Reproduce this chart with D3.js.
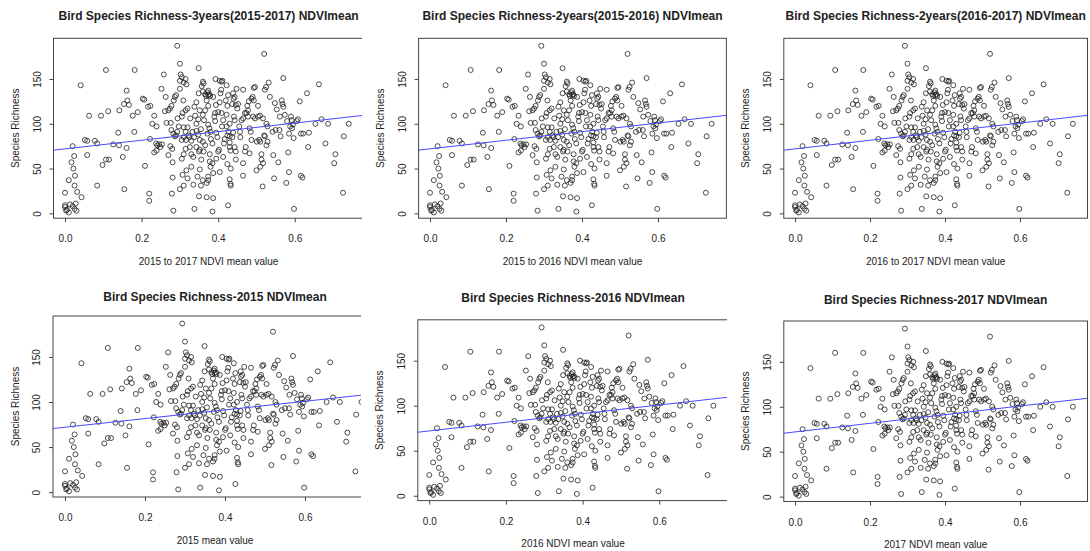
<!DOCTYPE html>
<html>
<head>
<meta charset="utf-8">
<script src="https://cdn.jsdelivr.net/npm/d3@7"></script>
<style>
  body { margin: 0; background: #fff; }
  text { font-family: "Liberation Sans", Arial, sans-serif; fill: #222; }
  .title { font-weight: bold; font-size: 12px; }
  .axisText { font-size: 10px; }
</style>
</head>
<body>
<div id="chart"></div>
<script>
// panel titles and x labels
var titles = [
    "Bird Species Richness-3years(2015-2017) NDVImean",
    "Bird Species Richness-2years(2015-2016) NDVImean",
    "Bird Species Richness-2years(2016-2017) NDVImean",
    "Bird Species Richness-2015 NDVImean",
    "Bird Species Richness-2016 NDVImean",
    "Bird Species Richness-2017 NDVImean"
];
var xLabels = [
    "2015 to 2017 NDVI mean value",
    "2015 to 2016 NDVI mean value",
    "2016 to 2017 NDVI mean value",
    "2015 mean value",
    "2016 NDVI mean value",
    "2017 NDVI mean value"
];
var yLabel = "Species Richness";
var xTicks = [0, 0.2, 0.4, 0.6];
var yTicks = [0, 50, 100, 150];

// fitted line
var fitIntercept = 72;
var fitSlope = 48;

// [NDVI mean, species richness]
var sites = [
[0.0,23],[0.0,9],[0.0,7],[0.005,4],[0.01,1],[0.013,10],[0.02,8],[0.028,11],[0.03,3],[0.025,5],[0.003,3],
[0.01,37],[0.017,57],[0.02,75],[0.022,50],[0.024,64],[0.026,42],[0.025,31],[0.032,24],[0.043,18],[0.041,143],
[0.052,82],[0.058,81],[0.058,65],[0.063,109],[0.078,81],[0.084,78],[0.084,31],[0.094,109],[0.098,54],[0.107,60],
[0.115,60],[0.107,160],[0.113,114],[0.126,77],[0.139,90],[0.142,115],[0.141,76],[0.151,63],[0.154,122],[0.155,27],
[0.161,137],[0.163,126],[0.161,73],[0.167,121],[0.177,109],[0.182,160],[0.181,91],[0.19,113],[0.203,128],[0.207,127],
[0.209,53],[0.217,119],[0.223,120],[0.22,22],[0.22,14],[0.222,83],[0.228,100],[0.233,68],[0.239,70],[0.233,109],
[0.239,97],[0.238,78],[0.241,76],[0.246,77],[0.249,74],[0.253,77],[0.252,139],[0.258,155],[0.261,114],[0.263,130],
[0.265,101],[0.27,115],[0.274,117],[0.278,120],[0.27,65],[0.275,75],[0.28,72],[0.279,22],[0.281,40],[0.283,3],
[0.278,93],[0.283,89],[0.281,57],[0.284,126],[0.287,130],[0.29,132],[0.29,87],[0.293,187],[0.294,106],[0.297,97],
[0.30,139],[0.30,148],[0.302,155],[0.305,152],[0.30,167],[0.30,27],[0.305,61],[0.307,43],[0.309,126],[0.31,146],
[0.315,150],[0.317,144],[0.31,66],[0.315,72],[0.31,96],[0.315,91],[0.31,85],[0.316,82],[0.322,87],[0.31,31],
[0.317,48],[0.32,39],[0.32,96],[0.327,106],[0.325,85],[0.33,81],[0.333,91],[0.337,85],[0.33,66],[0.335,63],
[0.335,32],[0.338,5],[0.338,119],[0.343,124],[0.34,109],[0.343,100],[0.348,105],[0.343,92],[0.348,88],[0.352,82],
[0.355,94],[0.35,69],[0.352,71],[0.349,134],[0.349,162],[0.346,41],[0.35,19],[0.355,31],[0.36,37],[0.356,60],
[0.357,142],[0.36,147],[0.362,145],[0.36,136],[0.366,133],[0.368,131],[0.372,135],[0.374,132],[0.377,133],[0.379,131],
[0.374,137],[0.36,110],[0.363,104],[0.366,115],[0.36,80],[0.366,76],[0.37,18],[0.37,34],[0.374,37],[0.374,41],
[0.374,99],[0.377,95],[0.38,91],[0.372,89],[0.378,66],[0.378,58],[0.38,52],[0.381,83],[0.385,78],[0.385,56],
[0.387,45],[0.387,17],[0.385,2],[0.39,108],[0.392,103],[0.392,112],[0.394,121],[0.393,150],[0.395,90],[0.398,85],
[0.4,69],[0.402,71],[0.404,148],[0.409,147],[0.411,148],[0.406,134],[0.408,138],[0.404,46],[0.41,97],[0.413,104],
[0.409,112],[0.415,78],[0.417,83],[0.42,126],[0.424,120],[0.422,110],[0.422,97],[0.427,91],[0.424,87],[0.43,86],
[0.43,100],[0.424,55],[0.426,9],[0.426,132],[0.43,79],[0.43,74],[0.432,70],[0.43,38],[0.432,33],[0.433,31],
[0.433,50],[0.437,85],[0.439,90],[0.437,122],[0.44,128],[0.443,130],[0.441,108],[0.443,104],[0.443,74],[0.446,69],
[0.446,121],[0.45,117],[0.452,122],[0.455,97],[0.457,91],[0.458,85],[0.465,106],[0.47,112],[0.465,138],[0.465,56],
[0.465,42],[0.47,69],[0.472,74],[0.474,112],[0.478,108],[0.476,120],[0.48,125],[0.478,115],[0.482,95],[0.485,91],
[0.487,128],[0.49,130],[0.493,126],[0.491,108],[0.496,106],[0.493,140],[0.496,141],[0.501,80],[0.5,48],[0.504,120],
[0.504,108],[0.509,109],[0.507,82],[0.51,80],[0.51,52],[0.513,60],[0.513,66],[0.517,56],[0.516,30],[0.517,106],
[0.52,87],[0.522,86],[0.522,138],[0.525,141],[0.52,178],[0.526,100],[0.529,97],[0.529,80],[0.532,146],[0.535,130],
[0.542,91],[0.544,65],[0.546,39],[0.548,123],[0.55,93],[0.553,116],[0.557,57],[0.56,93],[0.561,108],[0.563,86],
[0.566,126],[0.568,122],[0.57,151],[0.57,119],[0.574,110],[0.578,34],[0.58,103],[0.583,68],[0.585,46],[0.585,89],
[0.588,97],[0.59,108],[0.592,104],[0.593,95],[0.595,99],[0.597,84],[0.598,5],[0.605,103],[0.608,105],[0.613,125],
[0.616,89],[0.622,89],[0.616,42],[0.62,40],[0.632,134],[0.635,74],[0.637,90],[0.654,100],[0.663,144],[0.67,105],
[0.68,78],[0.687,100],[0.703,56],[0.706,66],[0.726,23],[0.728,86],[0.741,100],
[0.276,101],[0.287,86],[0.293,91],[0.305,108],[0.307,112],[0.315,115],[0.32,117],[0.352,115],[0.37,126],[0.374,120],
[0.387,130],[0.4,113],[0.404,124],[0.422,143],[0.439,134],[0.448,139],[0.461,104],[0.343,74],[0.326,74],[0.305,82],
[0.362,69],[0.395,61],[0.413,63],[0.33,52],[0.352,49],[0.446,60],[0.482,67],[0.487,82],[0.526,76]
];

var svgWidth = 1090;
var svgHeight = 551;

// where each screenshot sits, where its plot box is, and title gap
var panels = [
    { clip: [0, 0, 362, 275],      box: [53.5, 38.3, 363.7, 218.2],  titleGap: 23 },
    { clip: [362, 0, 727, 275],    box: [418.6, 38.3, 726.4, 218.2], titleGap: 23 },
    { clip: [727, 0, 1090, 275],   box: [783.8, 38.3, 1087.5, 218.2], titleGap: 23 },
    { clip: [0, 275, 361, 551],    box: [53, 316, 377, 497],         titleGap: 19 },
    { clip: [361, 275, 727, 551],  box: [417.8, 319.8, 728.3, 500.6], titleGap: 22 },
    { clip: [727, 275, 1090, 551], box: [783.8, 321, 1087.5, 501.5],  titleGap: 21 }
];

var svg = d3.select("#chart")
    .append("svg")
    .attr("width", svgWidth)
    .attr("height", svgHeight);

var defs = svg.append("defs");

panels.forEach(function (p, i) {
    var c = p.clip, b = p.box;

    defs.append("clipPath").attr("id", "clip" + i)
        .append("rect")
        .attr("x", c[0]).attr("y", c[1])
        .attr("width", c[2] - c[0]).attr("height", c[3] - c[1]);
    defs.append("clipPath").attr("id", "box" + i)
        .append("rect")
        .attr("x", b[0]).attr("y", b[1])
        .attr("width", b[2] - b[0]).attr("height", b[3] - b[1]);

    var g = svg.append("g").attr("clip-path", "url(#clip" + i + ")");

    var x = d3.scaleLinear().domain([-0.03, 0.78]).range([b[0], b[2]]);
    var y = d3.scaleLinear().domain([-5.4, 195.4]).range([b[3], b[1]]);

    // points
    g.append("g").attr("clip-path", "url(#box" + i + ")")
        .selectAll("circle")
        .data(sites)
        .enter().append("circle")
        .attr("cx", function (d) { return x(d[0]); })
        .attr("cy", function (d) { return y(d[1]); })
        .attr("r", 2.5)
        .attr("fill", "none")
        .attr("stroke", "#222")
        .attr("stroke-width", 0.8);

    // regression line
    g.append("line")
        .attr("clip-path", "url(#box" + i + ")")
        .attr("x1", x(-0.03)).attr("y1", y(fitIntercept + fitSlope * -0.03))
        .attr("x2", x(0.78)).attr("y2", y(fitIntercept + fitSlope * 0.78))
        .attr("stroke", "#4848ff")
        .attr("stroke-width", 1);

    // box
    g.append("rect")
        .attr("x", b[0]).attr("y", b[1])
        .attr("width", b[2] - b[0]).attr("height", b[3] - b[1])
        .attr("fill", "none")
        .attr("stroke", "#444")
        .attr("stroke-width", 1);

    // x axis
    var xAxis = g.append("g")
        .attr("transform", "translate(0," + b[3] + ")")
        .call(d3.axisBottom(x).tickValues(xTicks).tickFormat(d3.format(".1f"))
            .tickSize(4).tickSizeOuter(0).tickPadding(13));
    xAxis.select(".domain").remove();
    xAxis.selectAll("line").attr("stroke", "#444");
    xAxis.selectAll("text").attr("class", "axisText").attr("fill", null).attr("font-family", null).attr("font-size", null);

    // y axis, labels turned like R does
    var yAxis = g.append("g")
        .attr("transform", "translate(" + b[0] + ",0)")
        .call(d3.axisLeft(y).tickValues(yTicks).tickSize(4).tickSizeOuter(0));
    yAxis.select(".domain").remove();
    yAxis.selectAll("line").attr("stroke", "#444");
    yAxis.selectAll("text")
        .attr("class", "axisText")
        .attr("fill", null).attr("font-family", null).attr("font-size", null)
        .attr("transform", "rotate(-90)")
        .attr("x", 0).attr("y", -13).attr("dy", null)
        .style("text-anchor", "middle");

    var midX = (b[0] + b[2]) / 2;

    g.append("text")
        .attr("class", "title")
        .attr("x", midX).attr("y", b[1] - p.titleGap)
        .attr("dy", "0.35em")
        .style("text-anchor", "middle")
        .text(titles[i]);

    g.append("text")
        .attr("class", "axisText")
        .attr("x", midX).attr("y", b[3] + 43)
        .attr("dy", "0.35em")
        .style("text-anchor", "middle")
        .text(xLabels[i]);

    g.append("text")
        .attr("class", "axisText")
        .attr("transform", "translate(" + (b[0] - 38) + "," + ((b[1] + b[3]) / 2) + ") rotate(-90)")
        .attr("dy", "0.35em")
        .style("text-anchor", "middle")
        .text(yLabel);
});
</script>
</body>
</html>
